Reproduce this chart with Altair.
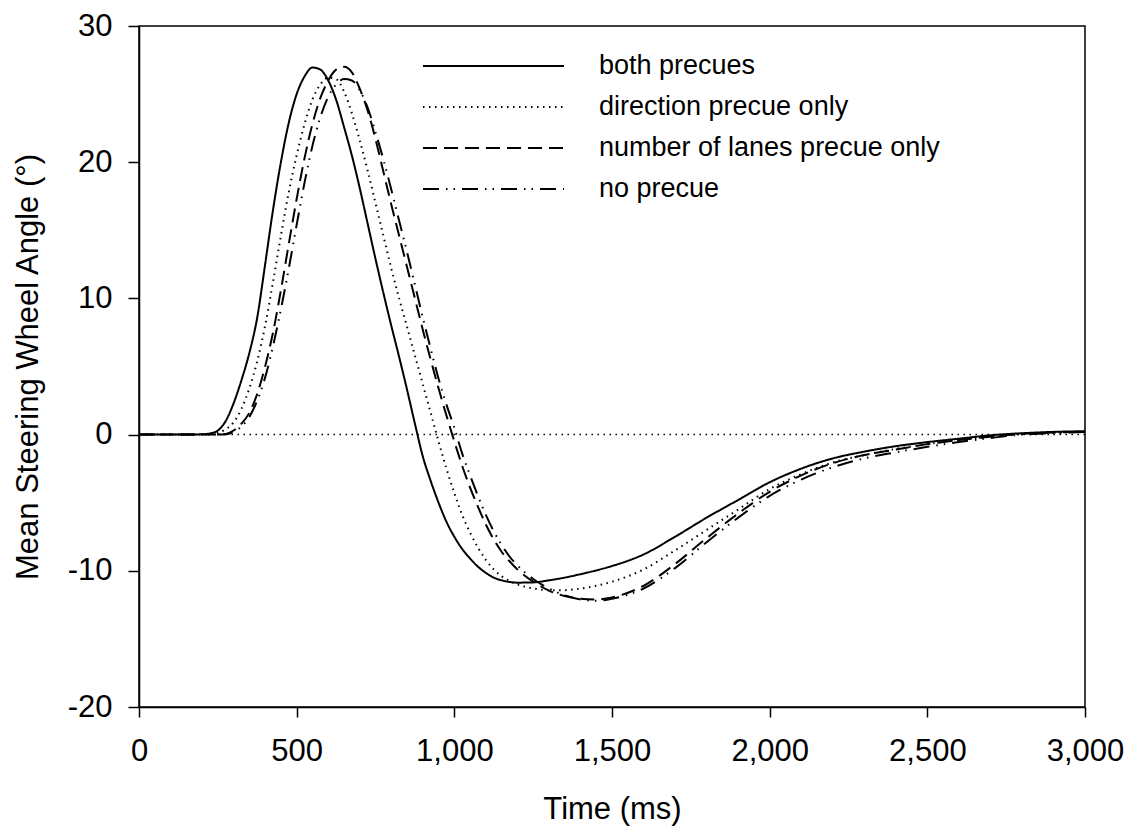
import altair as alt
import pandas as pd

# ---- data ----
time_ms = [0, 100, 200,
           225, 250, 275, 300, 325, 350, 375, 400, 425, 450, 475, 500,
           525, 550, 575, 600, 625, 650, 675, 700, 725, 750, 775, 800,
           825, 850, 875, 900, 925, 950, 975, 1000, 1025, 1050, 1075, 1100,
           1125, 1150, 1175, 1200,
           1250, 1300, 1350, 1400, 1450, 1500,
           1600, 1700, 1800, 1900, 2000, 2100, 2200, 2300, 2400, 2500,
           2600, 2700, 2800, 2900, 3000]

both_precues = [0, 0, 0.02,
                0.08, 0.3, 1.0, 2.3, 4.0, 6.0, 8.6, 12.5, 16.5, 20.0, 22.9, 25.0,
                26.3, 26.95, 26.8, 26.0, 24.6, 22.6, 20.5, 18.1, 15.5, 12.9, 10.4, 8.0,
                5.7, 3.3, 0.8, -1.6, -3.4, -5.0, -6.4, -7.5, -8.4, -9.1, -9.7, -10.15,
                -10.5, -10.7, -10.82, -10.87,
                -10.85, -10.7, -10.5, -10.25, -9.97, -9.65,
                -8.8, -7.5, -6.1, -4.8, -3.5, -2.5, -1.75, -1.25, -0.85, -0.55,
                -0.3, -0.05, 0.1, 0.2, 0.25]

direction_only = [0, 0, 0,
                  0.03, 0.12, 0.4, 0.9, 1.9, 3.4, 5.4, 8.0, 11.2, 14.6, 17.8, 20.5,
                  22.8, 24.6, 25.7, 26.2, 26.1, 25.2, 23.6, 21.6, 19.4, 17.0, 14.6, 12.2,
                  10.0, 7.9, 5.8, 3.7, 1.6, -0.5, -2.5, -4.3, -5.9, -7.2, -8.3, -9.2,
                  -9.9, -10.4, -10.75, -11.0,
                  -11.3, -11.42, -11.42, -11.3, -11.1, -10.8,
                  -9.9, -8.5, -7.0, -5.5, -4.0, -2.9, -2.05, -1.5, -1.05, -0.7,
                  -0.4, -0.15, 0.05, 0.15, 0.2]

lanes_only = [0, 0, 0,
              0, 0.01, 0.05, 0.3, 0.8, 1.6, 3.0, 5.0, 7.5, 10.6, 14.0, 17.3,
              20.3, 22.8, 24.7, 26.0, 26.8, 27.0, 26.6, 25.4, 23.8, 21.7, 19.3, 16.9,
              14.6, 12.3, 10.0, 7.7, 5.5, 3.4, 1.4, -0.5, -2.3, -3.9, -5.3, -6.6,
              -7.7, -8.6, -9.3, -9.9,
              -10.8, -11.45, -11.85, -12.05, -12.1, -11.95,
              -11.1, -9.5, -7.6, -5.8, -4.2, -3.0, -2.1, -1.5, -1.1, -0.7,
              -0.4, -0.15, 0.05, 0.15, 0.2]

no_precue = [0, 0, 0,
             0, 0, 0.02, 0.2, 0.6, 1.3, 2.5, 4.2, 6.5, 9.2, 12.2, 15.4,
             18.5, 21.2, 23.3, 24.8, 25.7, 26.1, 26.0, 25.3, 24.0, 22.2, 20.2, 18.0,
             15.7, 13.4, 11.0, 8.6, 6.3, 4.1, 2.2, 0.5, -1.4, -3.0, -4.5, -5.9,
             -7.1, -8.1, -8.95, -9.6,
             -10.6, -11.3, -11.8, -12.1, -12.2, -12.05,
             -11.3, -9.8, -7.9, -6.1, -4.5, -3.3, -2.4, -1.75, -1.3, -0.9,
             -0.55, -0.25, 0.0, 0.1, 0.2]

series_names = ["both precues", "direction precue only",
                "number of lanes precue only", "no precue"]
x_ticks = [0, 500, 1000, 1500, 2000, 2500, 3000]
y_ticks = [-20, -10, 0, 10, 20, 30]

rows = []
for name, vals in zip(series_names, [both_precues, direction_only, lanes_only, no_precue]):
    for t, v in zip(time_ms, vals):
        rows.append({"time": t, "angle": v, "condition": name})
df = pd.DataFrame(rows)

FONT = "Liberation Sans"
dash_styles = [[1, 0], [1.5, 4.5], [14, 7], [16, 7, 1.5, 6, 1.5, 7]]

x_enc = alt.X("time:Q",
              scale=alt.Scale(domain=[0, 3000], nice=False, zero=False),
              axis=alt.Axis(values=x_ticks, title="Time (ms)",
                            labelExpr="format(datum.value, ',.0f')",
                            labelFlush=False, labelOverlap=False,
                            tickSize=10, labelPadding=19, titleY=111,
                            titleBaseline="alphabetic"))
y_enc = alt.Y("angle:Q",
              scale=alt.Scale(domain=[-20, 30], nice=False, zero=False),
              axis=alt.Axis(values=y_ticks, title="Mean Steering Wheel Angle (°)",
                            labelExpr="datum.value < 0 ? '-' + format(-datum.value, 'd') : format(datum.value, 'd')",
                            labelFlush=False, labelOverlap=False,
                            tickSize=11, labelPadding=16, titleX=-95))

zero_line = alt.Chart(pd.DataFrame({"v": [0]})).mark_rule(
    color="black", strokeWidth=1.5, strokeDash=[1.5, 4.5]
).encode(y=alt.Y("v:Q", scale=alt.Scale(domain=[-20, 30], nice=False, zero=False)))

lines = alt.Chart(df).mark_line(
    color="black", strokeWidth=2, interpolate="monotone", strokeCap="butt"
).encode(
    x=x_enc,
    y=y_enc,
    strokeDash=alt.StrokeDash(
        "condition:N",
        scale=alt.Scale(domain=series_names, range=dash_styles),
        legend=alt.Legend(
            title=None, orient="none", legendX=283, legendY=25,
            symbolType="stroke", symbolSize=19881, symbolStrokeWidth=2,
            symbolStrokeColor="black", labelFont=FONT, labelFontSize=27,
            labelColor="black", labelOffset=34, labelLimit=600,
            clipHeight=30, rowPadding=11, padding=0, symbolOffset=0,
        ),
    ),
    order=alt.Order("time:Q"),
)

chart = alt.layer(lines, zero_line).properties(
    width=946, height=681,
    autosize=alt.AutoSizeParams(type="none"),
    padding={"left": 139, "top": 26, "right": 44, "bottom": 120},
    background="white",
).configure_axis(
    grid=False, domainColor="black", domainWidth=1.5, tickColor="black",
    tickWidth=1.5, labelColor="black", titleColor="black",
    labelFont=FONT, titleFont=FONT, labelFontSize=31, titleFontSize=31,
    titleFontWeight="normal",
).configure_view(stroke="black", strokeWidth=1.5)

chart.save("out.html", embed_options={"renderer": "svg", "actions": False})
